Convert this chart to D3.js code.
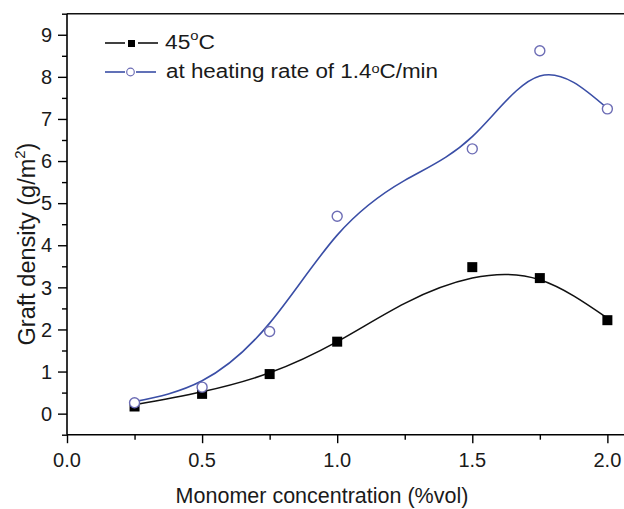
<!DOCTYPE html>
<html><head><meta charset="utf-8">
<script src="https://cdn.jsdelivr.net/npm/d3@7"></script>
<style>body{margin:0;background:#fff}text{font-family:"Liberation Sans",Arial,sans-serif;fill:#1a1a1a}</style>
</head><body><svg id="c" width="624" height="509"></svg>
<script>
const conc = [0.25, 0.5, 0.75, 1.0, 1.5, 1.75, 2.0];
const density45 = [0.17, 0.47, 0.94, 1.71, 3.48, 3.22, 2.22];
const densityRate = [0.26, 0.63, 1.95, 4.69, 6.29, 8.62, 7.24];
// fitted curves
const fitX = [0.25, 0.5, 0.75, 1.0, 1.25, 1.5, 1.75, 2.0];
const fit45 = [0.21, 0.52, 0.97, 1.71, 2.62, 3.22, 3.18, 2.27];
const fitRate = [0.285, 0.78, 2.15, 4.24, 5.54, 6.58, 8.02, 7.25];
const xTicks = [0.0, 0.5, 1.0, 1.5, 2.0];
const yTicks = [0, 1, 2, 3, 4, 5, 6, 7, 8, 9];

const svg = d3.select("#c");
const x = d3.scaleLinear().domain([0, 2.1]).range([67, 634.4]);
const y = d3.scaleLinear().domain([-0.5, 9.5]).range([434.7, 13.7]);
const blueLine = "#3a4ea6", blueMark = "#6d6db5";

// frame top
svg.append("line").attr("x1", 67).attr("x2", 624).attr("y1", y(9.5)).attr("y2", y(9.5)).attr("stroke", "#111").attr("stroke-width", 1.6);

// x axis
const xa = svg.append("g").attr("transform", `translate(0,${y(-0.5)})`);
xa.call(d3.axisBottom(x).tickValues(d3.range(0, 2.01, 0.25)).tickSize(5).tickFormat(""));
xa.call(g => g.selectAll(".tick line").filter(d => Math.abs(d*2 - Math.round(d*2)) < 1e-6).attr("y2", 8.5));
xa.select(".domain").attr("stroke-width", 1.6).attr("d", `M67,0H624`);
xa.selectAll(".tick line").attr("stroke-width", 1.4);
xa.selectAll(".lab").data(xTicks).enter().append("text").attr("x", d => x(d)).attr("y", 32)
  .attr("text-anchor", "middle").attr("font-size", 20).text(d => d.toFixed(1));

// y axis
const ya = svg.append("g").attr("transform", `translate(67,0)`);
ya.call(d3.axisLeft(y).tickValues(d3.range(-0.5, 9.51, 0.5)).tickSize(5).tickFormat(""));
ya.call(g => g.selectAll(".tick line").filter(d => Math.abs(d - Math.round(d)) < 1e-6 && d >= 0 && d <= 9).attr("x2", -9));
ya.select(".domain").attr("stroke-width", 1.6).attr("d", `M0,${y(-0.5)}V${y(9.5)}`);
ya.selectAll(".tick line").attr("stroke-width", 1.4);
ya.selectAll(".lab").data(yTicks).enter().append("text").attr("x", -15).attr("y", d => y(d)).attr("dy", "0.36em")
  .attr("text-anchor", "end").attr("font-size", 20).text(d => d);

// axis titles
svg.append("text").attr("x", 322).attr("y", 503).attr("text-anchor", "middle").attr("font-size", 21.5).text("Monomer concentration (%vol)");
const yt = svg.append("text").attr("transform", "translate(35,244) rotate(-90)").attr("text-anchor", "middle").attr("font-size", 23.5);
yt.append("tspan").text("Graft density (g/m");
yt.append("tspan").attr("font-size", 15).attr("dy", -10).text("2");
yt.append("tspan").attr("dy", 10).text(")");

// fit curves
const pts45 = fitX.map((v, i) => [v, fit45[i]]);
const ptsRate = fitX.map((v, i) => [v, fitRate[i]]);
const line = d3.line().x(d => x(d[0])).y(d => y(d[1])).curve(d3.curveNatural);
svg.append("path").attr("d", line(pts45)).attr("fill", "none").attr("stroke", "#111").attr("stroke-width", 1.6);
svg.append("path").attr("d", line(ptsRate)).attr("fill", "none").attr("stroke", blueLine).attr("stroke-width", 1.6);

// markers
svg.selectAll(".sq").data(conc).enter().append("rect")
  .attr("x", (d) => x(d) - 5).attr("y", (d, i) => y(density45[i]) - 5).attr("width", 10).attr("height", 10).attr("fill", "#000");
svg.selectAll(".ci").data(conc).enter().append("circle")
  .attr("cx", d => x(d)).attr("cy", (d, i) => y(densityRate[i])).attr("r", 5).attr("fill", "#fff").attr("stroke", blueMark).attr("stroke-width", 1.4);

// legend
const lg = svg.append("g");
lg.append("line").attr("x1", 105).attr("x2", 125).attr("y1", 43).attr("y2", 43).attr("stroke", "#111").attr("stroke-width", 1.6);
lg.append("line").attr("x1", 138).attr("x2", 158).attr("y1", 43).attr("y2", 43).attr("stroke", "#111").attr("stroke-width", 1.6);
lg.append("rect").attr("x", 128).attr("y", 40).attr("width", 7).attr("height", 7).attr("fill", "#000");
const t1 = lg.append("text").attr("x", 165).attr("y", 49).attr("font-size", 20).attr("textLength", 50).attr("lengthAdjust", "spacingAndGlyphs");
t1.append("tspan").text("45");
t1.append("tspan").attr("font-size", 13).attr("dy", -9).text("o");
t1.append("tspan").attr("dy", 9).text("C");
lg.append("line").attr("x1", 105).attr("x2", 125).attr("y1", 72).attr("y2", 72).attr("stroke", blueLine).attr("stroke-width", 1.6);
lg.append("line").attr("x1", 136).attr("x2", 156).attr("y1", 72).attr("y2", 72).attr("stroke", blueLine).attr("stroke-width", 1.6);
lg.append("circle").attr("cx", 130.5).attr("cy", 72).attr("r", 3.8).attr("fill", "#fff").attr("stroke", blueMark).attr("stroke-width", 1.2);
const t2 = lg.append("text").attr("x", 166).attr("y", 78).attr("font-size", 20).attr("textLength", 272).attr("lengthAdjust", "spacingAndGlyphs");
t2.append("tspan").text("at heating rate of 1.4");
t2.append("tspan").attr("font-size", 13).attr("dy", -5).text("o");
t2.append("tspan").attr("dy", 5).text("C/min");
</script></body></html>
